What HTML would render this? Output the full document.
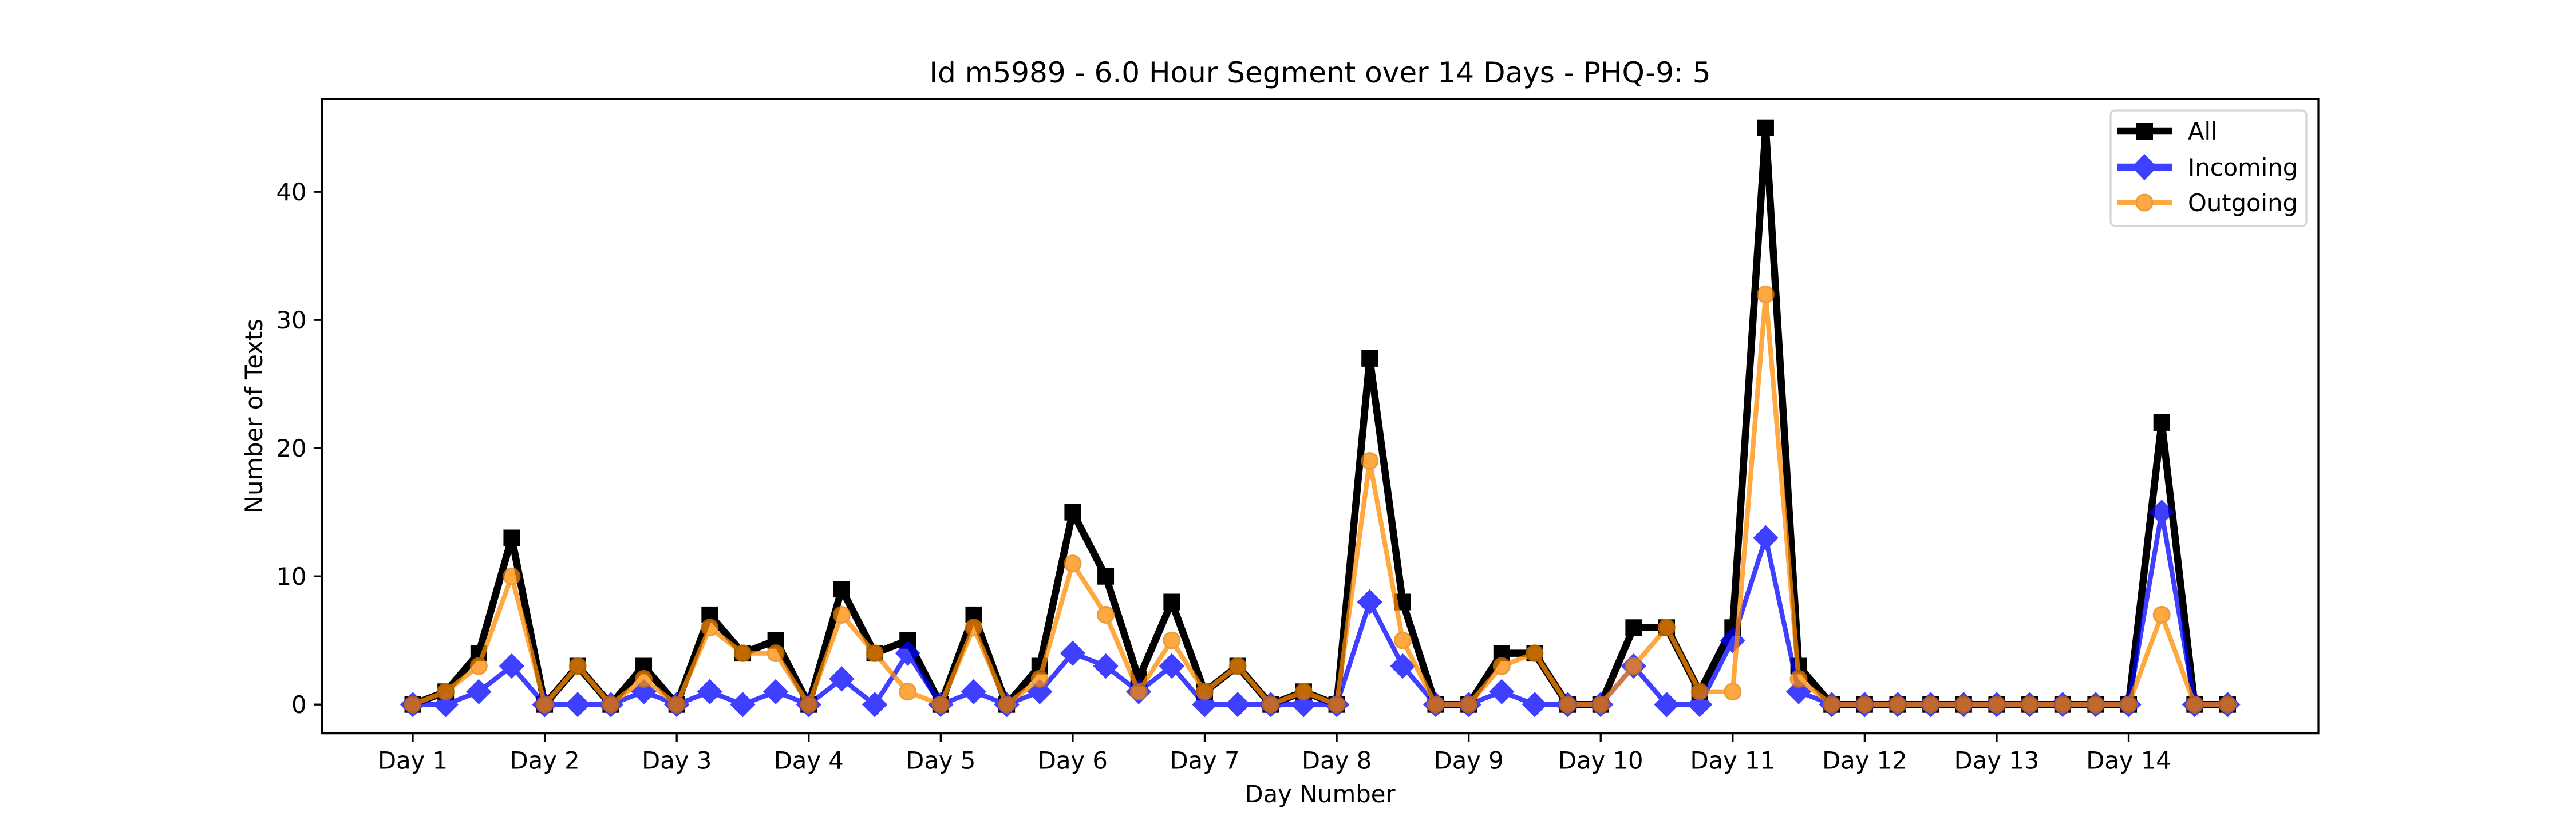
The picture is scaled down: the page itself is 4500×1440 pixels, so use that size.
<!DOCTYPE html>
<html><head><meta charset="utf-8"><style>
body{margin:0;background:#fff}
svg{display:block;font-family:"DejaVu Sans","Liberation Sans",sans-serif}
</style></head><body>
<svg id="chart" width="4500" height="1440" viewBox="0 0 4500 1440" xmlns="http://www.w3.org/2000/svg">
<rect width="4500" height="1440" fill="#fff"/>
<text x="2306" y="144" font-size="50" text-anchor="middle">Id m5989 - 6.0 Hour Segment over 14 Days - PHQ-9: 5</text>
<g id="grid"></g>
<g id="series"></g>
<rect x="562.5" y="172.8" width="3487.5" height="1108.8" fill="none" stroke="#000" stroke-width="3.3"/>
<g id="ticks"></g>
<text x="2306" y="1402" font-size="41.7" text-anchor="middle">Day Number</text>
<text transform="translate(458,727) rotate(-90)" font-size="41.7" text-anchor="middle">Number of Texts</text>
<g>
<rect x="3687" y="193" width="342" height="202" rx="8" fill="#fff" fill-opacity="0.8" stroke="#d6d6d6" stroke-width="3.3"/>
<g>
<line x1="3698" y1="229" x2="3794" y2="229" stroke="#000" stroke-width="12.5"/>
<rect x="3732" y="215" width="29" height="29" fill="#000"/>
<text x="3822" y="244" font-size="41.7">All</text></g>
<g opacity="0.75">
<line x1="3698" y1="292" x2="3794" y2="292" stroke="#0000ff" stroke-width="12.5"/>
<polygon points="3746,271 3766,292 3746,313 3726,292" fill="#0000ff" stroke="#0000ff" stroke-width="3"/></g>
<text x="3822" y="307" font-size="41.7">Incoming</text>
<g opacity="0.75">
<line x1="3698" y1="354" x2="3794" y2="354" stroke="#ff8c00" stroke-width="8.3"/>
<circle cx="3746" cy="354" r="14" fill="#ff8c00" stroke="#e07b00" stroke-width="3"/></g>
<text x="3822" y="369" font-size="41.7">Outgoing</text>
</g>
</svg>
<script>
const dayLabels = ["Day 1","Day 2","Day 3","Day 4","Day 5","Day 6","Day 7","Day 8","Day 9","Day 10","Day 11","Day 12","Day 13","Day 14"];
const yTicks = [0,10,20,30,40];
const allValues = [0,1,4,13, 0,3,0,3, 0,7,4,5, 0,9,4,5, 0,7,0,3, 15,10,2,8, 1,3,0,1, 0,27,8,0, 0,4,4,0, 0,6,6,1, 6,45,3,0, 0,0,0,0, 0,0,0,0, 0,22,0,0];
const incomingValues = [0,0,1,3, 0,0,0,1, 0,1,0,1, 0,2,0,4, 0,1,0,1, 4,3,1,3, 0,0,0,0, 0,8,3,0, 0,1,0,0, 0,3,0,0, 5,13,1,0, 0,0,0,0, 0,0,0,0, 0,15,0,0];
const outgoingValues = [0,1,3,10, 0,3,0,2, 0,6,4,4, 0,7,4,1, 0,6,0,2, 11,7,1,5, 1,3,0,1, 0,19,5,0, 0,3,4,0, 0,3,6,1, 1,32,2,0, 0,0,0,0, 0,0,0,0, 0,7,0,0];

const NS="http://www.w3.org/2000/svg";
const L=562.5,R=4050,T=172.8,B=1281.6;
const n=allValues.length;
const allMax=Math.max(...allValues,...incomingValues,...outgoingValues);
const xmin=-0.05*(n-1), xmax=(n-1)*1.05;
const ymin=-0.05*allMax, ymax=allMax*1.05;
function xs(i){return L+(i-xmin)/(xmax-xmin)*(R-L);}
function ys(v){return B-(v-ymin)/(ymax-ymin)*(B-T);}
function mk(tag,attrs,parent){const e=document.createElementNS(NS,tag);for(const k in attrs)e.setAttribute(k,attrs[k]);parent.appendChild(e);return e;}
const ticks=document.getElementById('ticks');
dayLabels.forEach((d,k)=>{
  const x=xs(k*4);
  const t=mk('line',{x1:x,y1:B,x2:x,y2:B+14.6,stroke:'#000','stroke-width':3.3},ticks);
  
  
  const tx=mk('text',{x:x,y:B+62,'font-size':41.7,'text-anchor':'middle'},ticks);
  tx.textContent=d;
  
  
});
yTicks.forEach(v=>{
  const y=ys(v);
  const t=mk('line',{x1:L-14.6,y1:y,x2:L,y2:y,stroke:'#000','stroke-width':3.3},ticks);
  
  
  const tx=mk('text',{x:L-27,y:y+15,'font-size':41.7,'text-anchor':'end'},ticks);
  tx.textContent=v;
  
  
});
const sg=document.getElementById('series');
function series(vals,name,color,edge,lw,shape,opacity){
  const g=mk('g',{opacity:opacity},sg);
  
  
  const pts=vals.map((v,i)=>xs(i).toFixed(1)+','+ys(v).toFixed(1)).join(' ');
  const pl=mk('polyline',{points:pts,fill:'none',stroke:color,'stroke-width':lw,'stroke-linejoin':'round'},g);
  
  
  vals.forEach((v,i)=>{
    const x=xs(i),y=ys(v);let m;
    if(shape==='square') m=mk('rect',{x:x-14.5,y:y-14.5,width:29,height:29,fill:color},g);
    else if(shape==='diamond') m=mk('polygon',{points:`${x},${y-20} ${x+20},${y} ${x},${y+20} ${x-20},${y}`,fill:color,stroke:edge,'stroke-width':3},g);
    else m=mk('circle',{cx:x,cy:y,r:14,fill:color,stroke:edge,'stroke-width':3},g);
    
    
  });
}
series(allValues,'all','#000','#000',12.5,'square',1);
series(incomingValues,'incoming','#0000ff','#0000ff',8.3,'diamond',0.75);
series(outgoingValues,'outgoing','#ff8c00','#e07b00',8.3,'circle',0.75);
</script>
</body></html>
